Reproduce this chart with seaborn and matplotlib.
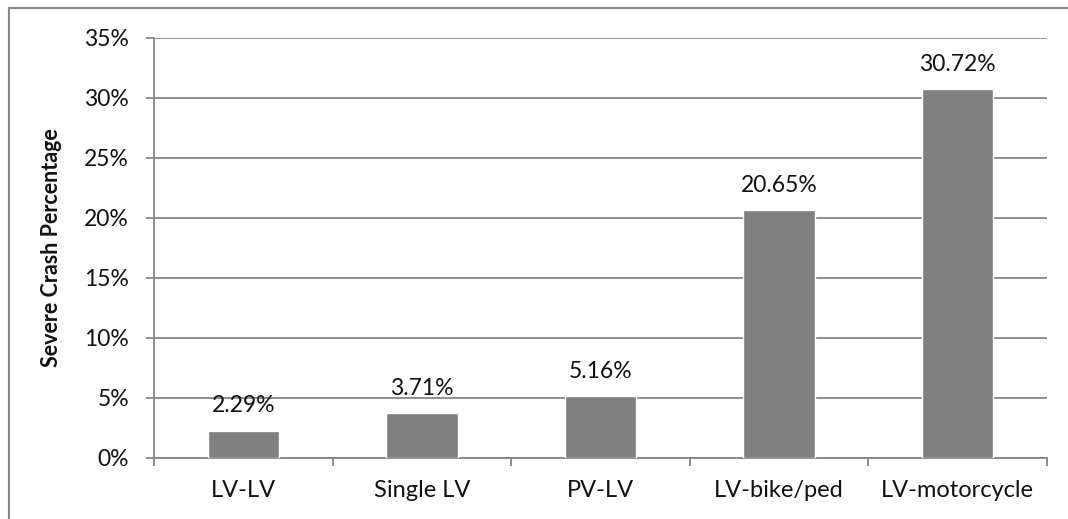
import pandas as pd
import seaborn as sns
import matplotlib.pyplot as plt
from matplotlib.patches import Rectangle
from matplotlib.ticker import FuncFormatter, FixedLocator

sns.set_theme(style='white')
plt.rcParams['font.family'] = ['Lato', 'DejaVu Sans']

categories = ['LV-LV', 'Single LV', 'PV-LV', 'LV-bike/ped', 'LV-motorcycle']
severe_pct = [2.29, 3.71, 5.16, 20.65, 30.72]
df = pd.DataFrame({'type': categories, 'pct': severe_pct})

grid_c = '#868686'
fig = plt.figure(figsize=(10.68, 5.19), dpi=100)
ax = fig.add_axes([154 / 1068, 1 - 458 / 519, (1047 - 154) / 1068, (458 - 38) / 519])

sns.barplot(data=df, x='type', y='pct', color='#808080', width=0.4, saturation=1, ax=ax, zorder=3)

ax.set_ylim(0, 35)
ax.set_xlim(-0.5, len(categories) - 0.5)
ax.set_yticks(range(0, 36, 5))
ax.yaxis.set_major_formatter(FuncFormatter(lambda v, p: f'{v:.0f}%'))
ax.yaxis.grid(True, color=grid_c, linewidth=1.3, zorder=0)
ax.set_axisbelow(True)

for i, v in enumerate(severe_pct):
    ax.text(i, v + 1.2, f'{v:.2f}%', ha='center', va='bottom', fontsize=16.5, color='#111111')

ax.xaxis.set_minor_locator(FixedLocator([i - 0.5 for i in range(len(categories) + 1)]))
ax.tick_params(axis='x', which='major', length=0, pad=16, labelsize=17, labelcolor='#111111')
ax.tick_params(axis='x', which='minor', length=6, width=1.3, color=grid_c, direction='out', bottom=True)
ax.tick_params(axis='y', length=6, width=1.3, color=grid_c, direction='out', left=True, labelsize=16.5,
               labelcolor='#111111', pad=12)

sns.despine(ax=ax, top=True, right=True)
for s in ['left', 'bottom']:
    ax.spines[s].set_color(grid_c)
    ax.spines[s].set_linewidth(1.3)

ax.set_xlabel('')
ax.set_ylabel('Severe Crash Percentage', fontsize=15.5, fontweight='bold', color='#111111', labelpad=16)

fig.patches.append(Rectangle((9 / 1068, -0.1), 1.2, 1 - 8 / 519 + 0.1, transform=fig.transFigure,
                             fill=False, edgecolor=grid_c, linewidth=1.5))

fig.savefig('out.png', dpi=100)
